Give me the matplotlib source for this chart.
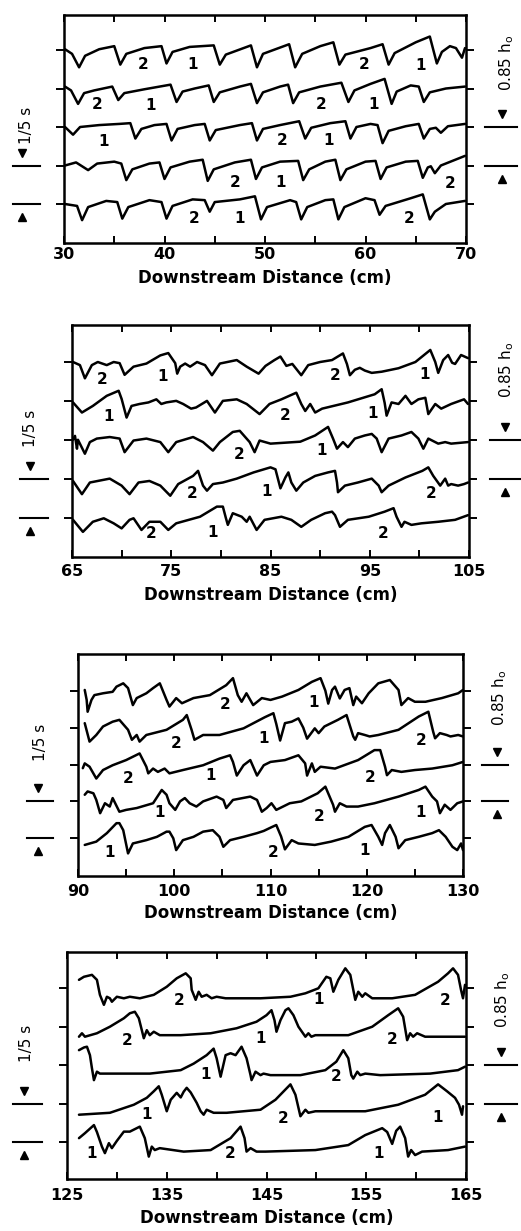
import matplotlib
matplotlib.use("Agg")
import matplotlib.pyplot as plt
from matplotlib.transforms import blended_transform_factory

plt.rcParams['font.family'] = ['DejaVu Sans']

# ------------------------------------------------------------------ data
# traces: (downstream distance cm, surface displacement in units of trace spacing)
P1_T1 = [(30.1,0.02),(30.8,-0.1),(31.5,-0.45),(32.1,-0.15),(33.5,0.02),(35.0,0.10),(35.6,-0.38),(36.2,-0.1),
         (38.0,0.05),(39.7,0.1),(40.2,-0.35),(40.8,-0.05),(42.5,0.08),(44.9,0.12),(45.5,-0.38),(46.1,-0.12),
         (48.6,0.12),(49.2,-0.45),(49.8,-0.1),(52.4,0.15),(53.0,-0.45),(53.7,-0.1),(55.5,0.1),(56.8,0.2),
         (57.4,-0.38),(58.0,-0.12),(60.5,0.05),(61.7,0.15),(62.3,-0.38),(62.9,-0.08),(65.0,0.2),(66.4,0.35),
         (67.1,-0.35),(67.6,-0.05),(68.4,0.1),(69.0,0.05),(69.6,-0.2),(69.9,0.05)]
P1_T2 = [(30.1,0.05),(30.7,-0.05),(31.4,-0.4),(32.0,-0.12),(33.0,-0.05),(34.8,0.05),(35.4,-0.3),(36.0,-0.12),
         (38.0,-0.02),(40.6,0.1),(41.2,-0.35),(41.8,-0.08),(43.0,0.0),(44.4,0.08),(44.9,-0.35),(45.5,-0.1),
         (47.5,0.05),(48.6,0.12),(49.2,-0.38),(49.8,-0.1),(51.5,0.05),(52.3,0.1),(52.8,-0.38),(53.4,-0.1),
         (55.5,0.05),(57.6,0.15),(58.3,-0.35),(58.9,-0.05),(60.5,0.12),(61.9,0.25),(62.6,-0.4),(63.1,-0.08),
         (64.5,0.08),(65.3,0.05),(65.8,-0.35),(66.4,-0.1),(68.0,0.0),(69.9,0.05)]
P1_T3 = [(30.1,0.0),(30.9,-0.2),(31.6,0.0),(33.5,0.05),(35.5,0.08),(36.6,0.1),(37.1,-0.3),(37.7,-0.05),
         (39.0,0.05),(40.2,0.08),(40.7,-0.35),(41.3,-0.05),(43.0,0.05),(44.0,0.08),(44.5,-0.35),(45.1,-0.08),
         (47.5,0.05),(48.7,0.1),(49.2,-0.35),(49.8,-0.05),(51.5,0.05),(53.4,0.15),(54.0,-0.3),(54.6,-0.02),
         (56.5,0.1),(58.0,0.15),(58.5,-0.3),(59.1,0.0),(60.5,0.08),(61.2,0.05),(61.7,-0.42),(62.3,-0.1),
         (64.0,0.02),(65.3,0.08),(65.8,-0.3),(66.4,-0.05),(67.0,-0.02),(67.5,-0.15),(68.2,0.02),(69.9,0.08)]
P1_T4 = [(30.1,0.0),(31.2,0.08),(32.4,-0.12),(33.3,0.05),(35.0,0.1),(35.7,0.05),(36.2,-0.38),(36.8,-0.1),
         (38.5,0.05),(39.5,0.08),(40.0,-0.35),(40.6,-0.05),(42.5,0.1),(43.8,0.15),(44.3,-0.4),(44.9,-0.1),
         (47.0,0.08),(48.6,0.15),(49.1,-0.35),(49.7,-0.05),(51.5,0.1),(53.3,0.12),(53.8,-0.38),(54.4,-0.1),
         (56.0,0.1),(57.0,0.15),(57.5,-0.38),(58.1,-0.1),(60.0,0.1),(61.0,0.12),(61.5,-0.35),(62.1,-0.05),
         (64.0,0.1),(65.2,0.12),(65.7,-0.32),(66.2,-0.05),(66.5,-0.02),(66.9,-0.2),(67.5,0.0),(69.9,0.25)]
P1_T5 = [(30.1,0.0),(31.3,-0.05),(31.8,-0.42),(32.4,-0.08),(34.2,0.08),(35.3,0.05),(35.8,-0.38),(36.4,-0.08),
         (38.5,0.1),(39.7,0.05),(40.2,-0.38),(40.8,-0.05),(42.8,0.12),(44.0,0.1),(44.5,-0.2),(45.0,0.05),
         (47.5,0.12),(49.0,0.2),(49.6,-0.4),(50.2,-0.08),(52.5,0.1),(53.1,0.05),(53.6,-0.4),(54.2,-0.08),
         (56.0,0.1),(56.8,0.12),(57.3,-0.4),(57.9,-0.08),(60.0,0.15),(60.9,0.1),(61.4,-0.28),(62.0,-0.05),
         (64.5,0.15),(65.7,0.25),(66.4,-0.4),(66.9,-0.2),(68.0,0.0),(69.9,0.08)]

P2_T1 = [(65.1,0.0),(65.8,-0.08),(66.3,-0.42),(67.0,-0.08),(67.6,0.0),(68.5,-0.08),(69.2,0.0),(69.8,-0.03),
         (70.3,-0.33),(71.2,-0.12),(72.5,-0.04),(73.9,0.17),(74.7,0.23),(75.4,-0.03),(75.6,-0.3),(75.9,-0.12),
         (76.4,-0.04),(76.9,-0.12),(77.6,0.0),(78.4,-0.08),(79.1,-0.34),(79.9,-0.04),(81.6,0.05),(82.6,-0.12),
         (83.8,-0.3),(84.5,-0.1),(85.4,0.05),(86.0,0.14),(86.6,-0.1),(87.2,-0.05),(88.1,-0.34),(88.8,-0.08),
         (90.0,0.0),(91.2,0.05),(92.3,0.22),(92.7,-0.05),(93.0,-0.34),(93.5,-0.2),(94.0,-0.15),(94.5,-0.22),
         (95.2,-0.28),(96.2,-0.25),(97.9,-0.16),(99.6,0.0),(101.1,0.31),(101.6,0.0),(101.9,-0.28),(102.4,0.05),
         (102.9,0.18),(103.3,-0.02),(103.6,-0.05),(104.2,0.18),(104.9,0.1)]
P2_T2 = [(65.1,-0.04),(66.0,-0.3),(67.1,-0.13),(68.5,0.13),(69.7,0.26),(70.0,0.05),(70.5,-0.43),(71.0,-0.13),
         (71.8,-0.08),(72.7,-0.04),(73.5,0.04),(74.0,-0.08),(74.5,-0.04),(75.5,0.0),(76.2,-0.08),(77.0,-0.2),
         (77.5,-0.17),(78.6,0.0),(79.4,-0.3),(80.2,0.0),(81.6,0.04),(82.6,-0.08),(83.9,-0.34),(84.9,-0.08),
         (86.1,0.04),(87.6,0.21),(88.1,-0.08),(88.5,-0.26),(89.0,-0.08),(89.5,-0.3),(90.2,-0.2),(92.8,-0.04),
         (95.5,0.17),(96.2,0.3),(96.5,-0.05),(96.7,-0.38),(97.2,-0.04),(97.9,-0.08),(98.6,0.13),(99.2,-0.08),
         (99.9,0.04),(100.6,0.08),(100.9,-0.34),(101.6,-0.08),(102.2,-0.2),(103.2,-0.08),(104.5,0.04),(104.9,-0.08)]
P2_T3 = [(65.1,0.0),(65.3,0.1),(65.5,-0.23),(65.6,0.0),(66.3,-0.36),(66.8,-0.06),(67.5,0.03),(68.8,0.07),
         (69.8,0.03),(70.3,-0.32),(71.2,-0.02),(72.5,0.03),(73.9,-0.06),(74.7,-0.32),(75.5,-0.06),(77.2,0.07),
         (78.2,-0.06),(79.2,-0.28),(79.9,-0.06),(81.2,0.2),(81.9,0.23),(82.9,-0.06),(83.4,-0.32),(83.9,-0.02),
         (85.0,-0.1),(88.0,-0.05),(89.5,0.11),(90.8,0.33),(91.3,0.03),(91.7,-0.23),(92.3,-0.06),(92.8,-0.19),
         (93.5,0.03),(94.5,0.11),(95.2,0.15),(95.7,0.03),(96.2,-0.32),(96.9,0.03),(98.2,0.11),(99.2,0.2),
         (99.9,0.03),(100.4,-0.23),(100.9,0.03),(101.9,-0.1),(102.6,-0.06),(103.2,-0.1),(104.9,-0.06)]
P2_T4 = [(65.1,-0.06),(66.0,-0.4),(66.8,-0.1),(68.8,0.0),(70.0,-0.18),(70.8,-0.4),(71.7,-0.1),(72.8,-0.06),
         (73.9,-0.18),(74.9,-0.44),(75.7,-0.14),(77.2,0.07),(77.7,0.2),(78.2,-0.18),(78.6,-0.31),(79.2,-0.14),
         (80.2,-0.1),(81.6,0.0),(83.3,0.16),(85.0,0.29),(85.5,0.24),(86.0,-0.25),(86.5,0.03),(86.8,0.16),
         (87.1,-0.1),(87.6,-0.31),(88.3,-0.1),(89.5,0.07),(90.8,0.16),(91.5,0.2),(91.7,-0.1),(91.8,-0.35),
         (92.5,-0.18),(93.8,-0.1),(95.2,0.0),(95.9,-0.18),(96.2,-0.35),(96.9,-0.18),(98.6,0.03),(100.3,0.2),
         (100.9,0.29),(101.4,0.07),(102.1,-0.18),(102.6,0.0),(102.9,-0.18),(103.2,-0.14),(103.9,-0.18),
         (104.5,-0.14),(104.9,-0.1)]
P2_T5 = [(65.1,-0.06),(66.1,-0.37),(67.1,-0.11),(68.2,-0.02),(69.2,-0.15),(70.0,-0.28),(70.8,-0.06),(71.2,-0.02),
         (72.0,-0.32),(72.8,-0.11),(73.9,-0.11),(74.7,-0.32),(75.5,-0.15),(77.9,0.02),(79.6,0.28),(80.2,0.28),
         (80.5,-0.01),(80.7,-0.19),(81.2,0.11),(82.1,0.02),(82.6,-0.11),(82.9,0.02),(83.6,-0.32),(84.4,-0.06),
         (86.1,0.02),(87.1,-0.06),(88.1,-0.24),(89.1,-0.06),(90.5,0.11),(91.2,0.15),(91.5,0.06),(92.0,-0.24),
         (92.8,-0.06),(94.9,0.02),(96.5,0.15),(97.4,0.24),(97.7,0.02),(98.2,-0.24),(98.5,-0.11),(99.2,-0.19),
         (100.2,-0.15),(101.9,-0.11),(103.6,-0.06),(104.9,0.06)]

P3_T1 = [(90.7,0.02),(90.9,-0.25),(91.0,-0.57),(91.4,-0.25),(91.7,-0.12),(92.6,-0.07),(93.6,-0.03),(94.0,0.11),
         (94.7,0.2),(95.2,0.07),(95.7,-0.39),(96.1,-0.2),(97.1,-0.07),(97.8,0.07),(98.5,0.2),(99.2,-0.25),
         (99.5,-0.43),(99.9,-0.3),(100.2,-0.2),(100.8,-0.34),(102.0,-0.2),(103.7,-0.12),(105.4,0.15),(106.1,0.34),
         (106.6,-0.12),(107.0,-0.3),(107.5,-0.07),(108.2,-0.39),(109.1,-0.2),(110.0,-0.25),(111.2,-0.16),
         (112.9,0.02),(114.3,0.24),(115.2,0.34),(115.7,0.0),(116.0,-0.35),(116.4,0.02),(116.7,0.11),(117.2,-0.21),
         (117.7,0.02),(118.2,0.07),(118.6,-0.39),(118.9,-0.16),(119.5,-0.34),(120.2,-0.07),(121.2,0.2),
         (122.4,0.29),(123.3,0.02),(123.6,-0.39),(124.3,-0.2),(125.0,-0.3),(126.1,-0.3),(127.8,-0.2),
         (129.5,-0.07),(130.0,0.02)]
P3_T2 = [(90.7,0.12),(91.2,-0.38),(91.9,-0.2),(92.6,0.03),(93.6,0.16),(94.3,0.21),(95.2,-0.06),(95.6,-0.33),
         (96.1,-0.2),(96.4,-0.38),(97.1,-0.2),(99.2,-0.06),(100.9,0.21),(101.3,0.34),(101.8,-0.06),(102.1,-0.33),
         (103.0,-0.2),(104.7,-0.2),(107.2,-0.02),(109.4,0.28),(110.3,0.39),(110.6,0.1),(111.0,-0.35),(111.5,0.12),
         (112.2,0.16),(112.9,0.25),(113.4,0.0),(113.8,-0.3),(114.6,-0.02),(115.0,-0.15),(115.6,0.03),(117.0,0.21),
         (117.9,0.34),(118.6,-0.24),(118.8,-0.33),(119.1,-0.15),(119.8,-0.2),(120.3,-0.24),(121.2,-0.2),
         (123.3,-0.06),(125.4,0.3),(126.4,0.43),(126.9,-0.11),(127.1,-0.29),(127.6,-0.15),(128.3,-0.2),
         (128.7,-0.24),(129.5,-0.2),(130.0,-0.24)]
P3_T3 = [(90.5,-0.1),(90.7,0.03),(91.2,-0.06),(91.9,-0.38),(92.6,-0.15),(93.6,-0.02),(95.0,0.12),(96.4,0.3),
         (97.1,-0.06),(97.3,-0.24),(97.8,-0.11),(98.3,-0.2),(99.0,-0.11),(99.5,-0.24),(100.9,-0.15),(103.0,-0.02),
         (104.7,0.16),(105.8,0.25),(106.1,0.07),(106.5,-0.3),(107.2,-0.02),(107.9,0.12),(108.6,-0.3),(109.3,-0.02),
         (110.0,0.07),(111.5,0.12),(112.9,0.25),(113.6,0.03),(113.8,-0.3),(114.3,0.03),(114.6,-0.2),(115.2,-0.06),
         (116.7,-0.11),(119.1,0.12),(120.8,0.39),(121.4,0.39),(121.9,-0.06),(122.1,-0.29),(122.6,-0.15),
         (123.6,-0.2),(125.0,-0.15),(126.8,-0.11),(128.9,-0.02),(130.0,0.07)]
P3_T4 = [(90.7,0.18),(91.0,0.27),(91.6,0.22),(91.9,0.04),(92.3,-0.32),(92.8,-0.05),(93.3,-0.14),(93.6,0.09),
         (94.3,-0.28),(95.0,-0.23),(96.1,-0.18),(97.8,-0.05),(98.7,0.31),(99.2,0.18),(99.5,-0.05),(100.1,-0.23),
         (100.6,0.0),(101.1,0.09),(101.6,-0.05),(102.3,-0.14),(103.0,0.0),(104.4,0.13),(105.1,0.04),(105.4,-0.18),
         (106.1,0.04),(107.9,0.13),(108.6,0.04),(109.1,-0.28),(109.6,-0.18),(110.1,-0.05),(110.6,-0.23),
         (111.3,-0.14),(112.0,-0.05),(113.2,0.0),(114.9,0.22),(115.7,0.4),(116.5,-0.09),(116.7,-0.28),
         (117.2,-0.05),(117.9,-0.14),(119.1,-0.14),(120.8,-0.05),(123.3,0.13),(125.4,0.31),(126.1,0.4),
         (126.8,0.13),(127.3,0.0),(127.6,-0.32),(128.1,-0.09),(128.7,-0.23),(129.4,-0.05),(130.0,0.0)]
P3_T5 = [(90.7,-0.18),(91.9,-0.09),(93.0,0.14),(94.0,0.41),(94.3,0.41),(94.7,0.22),(95.2,-0.41),(95.7,-0.14),
         (97.1,-0.05),(98.2,0.04),(99.2,0.18),(99.5,0.18),(99.9,0.0),(100.2,-0.32),(100.9,-0.05),(102.0,0.04),
         (103.0,0.18),(104.0,0.22),(104.7,0.04),(105.1,-0.23),(105.8,-0.05),(107.2,0.04),(108.6,0.14),
         (109.3,0.2),(110.1,0.3),(110.6,0.36),(111.1,0.05),(111.5,-0.3),(112.2,-0.05),(112.9,-0.14),
         (114.6,-0.18),(116.3,-0.09),(118.1,0.04),(119.8,0.31),(120.5,0.36),(121.2,0.04),(121.6,-0.18),
         (121.9,0.14),(122.4,0.36),(123.0,0.04),(123.3,-0.27),(124.0,-0.05),(125.4,0.04),(126.8,0.14),
         (127.5,0.22),(128.2,0.04),(128.9,-0.23),(129.4,-0.32),(129.8,-0.14),(130.0,-0.32)]

P4_T1 = [(126.2,0.22),(126.7,0.3),(127.5,0.35),(128.0,0.22),(128.3,-0.17),(128.7,-0.43),(129.0,-0.22),
         (129.3,-0.26),(129.5,-0.35),(130.0,-0.22),(130.7,-0.26),(131.3,-0.22),(132.3,-0.26),(133.7,-0.17),
         (135.0,0.04),(136.0,0.26),(136.9,0.39),(137.4,0.26),(137.5,-0.04),(137.9,-0.3),(138.2,-0.09),
         (138.5,-0.22),(139.0,-0.17),(139.5,-0.26),(140.0,-0.22),(140.9,-0.26),(144.4,-0.26),(147.4,-0.22),
         (148.9,-0.13),(150.2,0.0),(151.0,0.3),(151.4,0.26),(151.7,-0.09),(152.2,0.22),(152.9,0.52),
         (153.4,0.35),(153.7,-0.04),(153.9,-0.3),(154.2,-0.09),(154.6,-0.22),(154.9,-0.13),(155.6,-0.26),
         (157.6,-0.26),(159.9,-0.17),(162.2,0.17),(163.2,0.39),(163.7,0.52),(164.2,0.35),(164.5,-0.04),
         (164.7,-0.26),(164.9,0.09)]
P4_T2 = [(126.2,-0.26),(126.5,-0.17),(126.8,-0.26),(128.0,-0.17),(129.3,0.0),(130.7,0.22),(131.3,0.35),
         (131.8,0.39),(132.2,0.22),(132.5,-0.09),(132.7,-0.3),(133.0,-0.09),(133.3,-0.22),(133.7,-0.13),
         (134.3,-0.22),(136.4,-0.22),(139.4,-0.17),(142.0,-0.04),(144.0,0.13),(145.0,0.3),(145.5,0.43),
         (145.8,0.17),(146.0,-0.13),(146.4,0.17),(146.9,0.43),(147.2,0.48),(147.7,0.3),(148.2,0.0),
         (148.9,-0.26),(149.2,-0.17),(149.5,-0.26),(149.9,-0.22),(153.2,-0.22),(155.6,0.0),(157.2,0.3),
         (158.2,0.48),(158.7,0.26),(159.1,-0.35),(159.4,-0.17),(159.7,-0.26),(160.1,-0.17),(160.9,-0.26),
         (164.9,-0.26)]
P4_T3 = [(126.2,0.39),(126.7,0.46),(127.0,0.48),(127.3,0.26),(127.5,-0.08),(127.7,-0.39),(128.0,-0.17),
         (128.3,-0.22),(129.3,-0.22),(133.3,-0.22),(136.4,-0.13),(137.7,0.04),(139.0,0.26),(139.7,0.43),
         (140.0,0.18),(140.4,-0.3),(140.9,0.26),(141.4,0.31),(141.9,0.26),(142.5,0.48),(143.0,0.18),
         (143.4,-0.26),(143.5,-0.39),(143.9,-0.17),(144.4,-0.26),(144.7,-0.22),(145.4,-0.26),(148.4,-0.26),
         (150.9,-0.13),(152.0,0.09),(152.7,0.39),(153.2,0.18),(153.5,-0.26),(153.7,-0.35),(154.1,-0.17),
         (154.4,-0.26),(154.9,-0.22),(156.4,-0.26),(161.4,-0.22),(164.2,-0.13),(164.9,-0.04)]
P4_T4 = [(126.2,-0.29),(129.3,-0.24),(131.7,-0.03),(133.0,0.15),(133.7,0.32),(134.2,0.45),(134.5,0.23),
         (135.0,-0.2),(135.4,0.1),(136.0,0.28),(136.4,0.16),(136.7,0.31),(137.0,0.41),(137.4,0.29),
         (138.0,0.02),(138.4,-0.2),(138.7,-0.29),(139.0,-0.16),(139.7,-0.24),(141.0,-0.24),(144.4,-0.16),
         (145.9,0.1),(147.4,0.5),(147.9,0.23),(148.4,-0.33),(148.9,-0.16),(149.2,-0.24),(149.9,-0.2),
         (154.9,-0.2),(158.2,-0.03),(160.9,0.23),(162.2,0.5),(163.1,0.32),(163.9,0.15),(164.3,-0.03),
         (164.6,-0.29),(164.7,-0.07)]
P4_T5 = [(126.2,0.1),(126.8,0.23),(127.7,0.44),(128.0,0.26),(128.5,-0.12),(128.8,-0.29),(129.2,-0.03),
         (129.5,-0.16),(130.0,0.03),(130.7,0.27),(131.3,0.27),(132.3,0.4),(132.8,0.1),(133.2,-0.38),
         (133.5,-0.12),(133.8,-0.21),(134.3,-0.16),(136.7,-0.25),(139.4,-0.21),(141.4,0.1),(142.4,0.4),
         (142.8,0.1),(143.0,-0.25),(143.4,-0.16),(144.0,-0.25),(144.9,-0.25),(149.9,-0.21),(153.2,-0.08),
         (154.9,0.18),(156.6,0.36),(157.1,0.26),(157.6,-0.05),(158.0,0.29),(158.4,0.4),(158.9,0.1),
         (159.2,-0.38),(159.5,-0.21),(159.9,-0.34),(160.6,-0.25),(163.2,-0.21),(164.9,-0.12)]

# wave-group labels: (trace index from top, x position cm, text, vertical offset)
P1_LABELS = [(0,37.9,'2',-0.38),(0,42.8,'1',-0.38),(0,59.9,'2',-0.38),(0,65.5,'1',-0.4),
             (1,33.3,'2',-0.42),(1,38.6,'1',-0.45),(1,55.6,'2',-0.42),(1,60.8,'1',-0.42),
             (2,33.9,'1',-0.38),(2,51.7,'2',-0.36),(2,56.3,'1',-0.36),
             (3,47.0,'2',-0.43),(3,51.5,'1',-0.45),(3,68.4,'2',-0.48),
             (4,42.9,'2',-0.38),(4,47.5,'1',-0.38),(4,64.3,'2',-0.38)]
P2_LABELS = [(0,68.0,'2',-0.45),(0,74.1,'1',-0.38),(0,91.5,'2',-0.36),(0,100.5,'1',-0.32),
             (1,68.7,'1',-0.4),(1,86.5,'2',-0.38),(1,95.3,'1',-0.33),
             (2,81.8,'2',-0.38),(2,90.1,'1',-0.28),
             (3,77.1,'2',-0.38),(3,84.6,'1',-0.33),(3,101.2,'2',-0.38),
             (4,73.0,'2',-0.42),(4,79.2,'1',-0.38),(4,96.3,'2',-0.42)]
P3_LABELS = [(0,105.3,'2',-0.38),(0,114.5,'1',-0.32),
             (1,100.2,'2',-0.42),(1,109.3,'1',-0.3),(1,125.6,'2',-0.36),
             (2,95.2,'2',-0.38),(2,103.8,'1',-0.3),(2,120.4,'2',-0.35),
             (3,98.5,'1',-0.3),(3,115.1,'2',-0.42),(3,125.6,'1',-0.3),
             (4,93.3,'1',-0.38),(4,110.3,'2',-0.38),(4,119.8,'1',-0.32)]
P4_LABELS = [(0,136.2,'2',-0.32),(0,150.2,'1',-0.3),(0,162.9,'2',-0.32),
             (1,131.0,'2',-0.36),(1,144.4,'1',-0.3),(1,157.6,'2',-0.32),
             (2,138.9,'1',-0.25),(2,152.0,'2',-0.3),
             (3,133.0,'1',-0.28),(3,146.7,'2',-0.38),(3,162.1,'1',-0.35),
             (4,127.5,'1',-0.3),(4,141.4,'2',-0.3),(4,156.2,'1',-0.3)]

P1_XTICKS = [30, 40, 50, 60, 70]
P2_XTICKS = [65, 75, 85, 95, 105]
P3_XTICKS = [90, 100, 110, 120, 130]
P4_XTICKS = [125, 135, 145, 155, 165]

XLABEL = "Downstream Distance (cm)"
LEFT_SCALE_TEXT = "1/5 s"
RIGHT_SCALE_TEXT = "0.85 h$_\\mathregular{o}$"

# ------------------------------------------------------------------ layout (pixels)
W, H = 521, 1231
PANELS = [
    dict(traces=[P1_T1, P1_T2, P1_T3, P1_T4, P1_T5], labels=P1_LABELS, xt=P1_XTICKS,
         box=(64, 466, 15, 243), tick_px=(50, 204), ticklab_px=255, xlab_px=278,
         lscale=(13, 40, 22, 27, 125), rscale=(485, 517, 502, 507, 63)),
    dict(traces=[P2_T1, P2_T2, P2_T3, P2_T4, P2_T5], labels=P2_LABELS, xt=P2_XTICKS,
         box=(72, 469, 325, 557), tick_px=(362, 517.5), ticklab_px=572, xlab_px=595,
         lscale=(20, 48, 30, 30, 428), rscale=(490, 520, 505, 507, 370)),
    dict(traces=[P3_T1, P3_T2, P3_T3, P3_T4, P3_T5], labels=P3_LABELS, xt=P3_XTICKS,
         box=(78, 463, 654, 876), tick_px=(690.7, 838.3), ticklab_px=892, xlab_px=913,
         lscale=(27, 53, 38, 40, 742), rscale=(482, 508, 497, 500, 698)),
    dict(traces=[P4_T1, P4_T2, P4_T3, P4_T4, P4_T5], labels=P4_LABELS, xt=P4_XTICKS,
         box=(67, 466, 952, 1179), tick_px=(988.3, 1142), ticklab_px=1196, xlab_px=1218,
         lscale=(13, 42, 24, 27, 1043), rscale=(485, 517, 501, 503, 1000)),
]

fig = plt.figure(figsize=(W / 100, H / 100), dpi=100)
fig.patch.set_facecolor('white')

for p in PANELS:
    l, r, t, b = p['box']
    ax = fig.add_axes([l / W, 1 - b / H, (r - l) / W, (b - t) / H])
    top_px, bot_px = p['tick_px']
    sp = (bot_px - top_px) / 4.0
    ylo = -(b - bot_px) / sp
    yhi = 4 + (top_px - t) / sp

    for k, tr in enumerate(p['traces']):
        xs = [q[0] for q in tr]
        ys = [(4 - k) + q[1] for q in tr]
        ax.plot(xs, ys, color='black', lw=1.8, solid_joinstyle='round', solid_capstyle='round')

    for (k, x, s, dy) in p['labels']:
        ax.text(x, (4 - k) + dy, s, ha='center', va='center', fontsize=11, fontweight='bold')

    xt = p['xt']
    ax.set_xlim(xt[0], xt[-1])
    ax.set_ylim(ylo, yhi)
    ax.set_xticks(xt)
    ax.set_xticks([v + 5 for v in xt[:-1]], minor=True)
    ax.set_xticklabels([str(v) for v in xt], fontsize=11.5, fontweight='bold')
    pad_pt = max((p['ticklab_px'] - b) - 8, 1) * 0.72
    ax.tick_params(axis='x', which='both', direction='in', top=True, bottom=True,
                   length=5, width=1.4, pad=pad_pt)
    ax.set_yticks(range(5))
    ax.tick_params(axis='y', direction='out', left=True, right=True, length=6, width=1.4,
                   labelleft=False, labelright=False)
    for s in ax.spines.values():
        s.set_linewidth(1.8)

    ax.set_xlabel(XLABEL, fontsize=12, fontweight='bold')
    ax.xaxis.set_label_coords(0.5, -(p['xlab_px'] - b) / (b - t))
    ax.xaxis.label.set_va('center')

    trf = blended_transform_factory(fig.transFigure, ax.transData)
    arr = 13.0 / sp
    # left time-scale bar (between the two lowest traces)
    x0, x1, xa, tx, ty = p['lscale']
    for yy in (0, 1):
        ax.plot([x0 / W, x1 / W], [yy, yy], transform=trf, color='k', lw=1.5, clip_on=False)
    ax.plot([xa / W], [1 + arr], transform=trf, marker='v', ms=6, color='k', clip_on=False)
    ax.plot([xa / W], [0 - arr], transform=trf, marker='^', ms=6, color='k', clip_on=False)
    fig.text(tx / W, 1 - ty / H, LEFT_SCALE_TEXT, rotation=90, ha='center', va='center', fontsize=11)
    # right height-scale bar (between traces 3 and 4)
    x0, x1, xa, tx, ty = p['rscale']
    for yy in (1, 2):
        ax.plot([x0 / W, x1 / W], [yy, yy], transform=trf, color='k', lw=1.5, clip_on=False)
    ax.plot([xa / W], [2 + arr], transform=trf, marker='v', ms=6, color='k', clip_on=False)
    ax.plot([xa / W], [1 - arr], transform=trf, marker='^', ms=6, color='k', clip_on=False)
    fig.text(tx / W, 1 - ty / H, RIGHT_SCALE_TEXT, rotation=90, ha='center', va='center', fontsize=11)

    ax.set_xlim(xt[0], xt[-1])
    ax.set_ylim(ylo, yhi)

fig.savefig('out.png', dpi=100, facecolor='white')
